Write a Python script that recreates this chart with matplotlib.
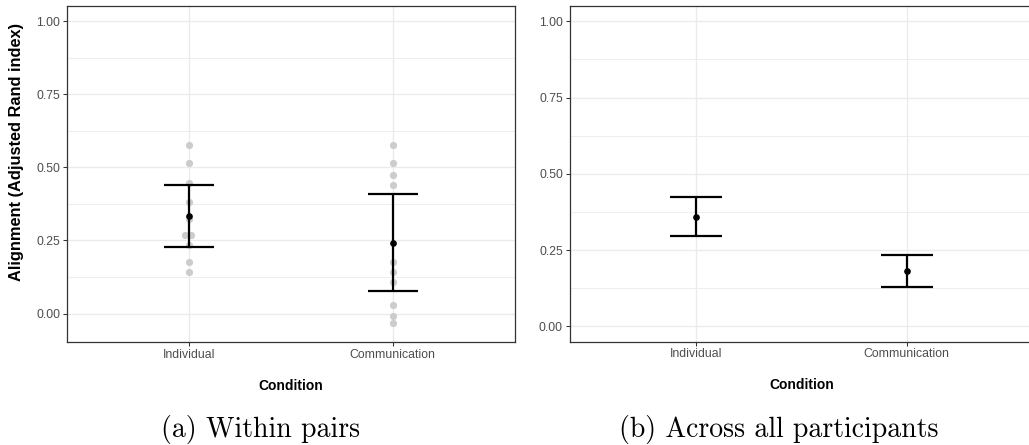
import matplotlib
matplotlib.use("Agg")
import matplotlib.pyplot as plt
import numpy as np

# ---------------- data ----------------
categories = ["Individual", "Communication"]

# panel (a): individual pair values
pairs_individual = [0.578, 0.514, 0.445, 0.380, 0.325, 0.269, 0.269, 0.235, 0.177, 0.142]
pairs_individual_offset = [0, 0, 0, 0, 0, -0.017, 0.012, 0, 0, 0]
pairs_communication = [0.578, 0.514, 0.474, 0.440, 0.177, 0.142, 0.108, 0.030, -0.008, -0.034]

pairs_mean = [0.333, 0.242]
pairs_lower = [0.229, 0.076]
pairs_upper = [0.439, 0.408]

# panel (b): across all participants
all_mean = [0.360, 0.181]
all_lower = [0.297, 0.129]
all_upper = [0.424, 0.234]

yticks = [0.00, 0.25, 0.50, 0.75, 1.00]
ytick_labels = ["0.00", "0.25", "0.50", "0.75", "1.00"]
minor_ticks = [0.125, 0.375, 0.625, 0.875]

xlabel = "Condition"
ylabel = "Alignment (Adjusted Rand index)"
captions = ["(a) Within pairs", "(b) Across all participants"]

# ---------------- style ----------------
W, H = 1029, 445
plt.rcParams["font.family"] = ["Liberation Sans", "DejaVu Sans"]
fig = plt.figure(figsize=(W / 100, H / 100), dpi=100)

grid_c = "#EBEBEB"
border_c = "#333333"
tick_c = "#4D4D4D"
tick_fs = 8.8


def px_axes(x0, x1, y0, y1):
    return fig.add_axes([x0 / W, 1 - y1 / H, (x1 - x0) / W, (y1 - y0) / H])


def style(ax, ylim):
    xs = np.arange(1, len(categories) + 1)
    ax.set_xlim(0.4, len(categories) + 0.6)
    ax.set_ylim(*ylim)
    ax.set_xticks(xs)
    ax.set_xticklabels(categories)
    ax.set_yticks(yticks)
    ax.set_yticklabels(ytick_labels)
    ax.set_yticks(minor_ticks, minor=True)
    ax.tick_params(axis="y", which="minor", length=0)
    ax.tick_params(which="major", length=3.2, width=0.75, color=border_c,
                   labelcolor=tick_c, labelsize=tick_fs, pad=1.5)
    ax.grid(which="major", color=grid_c, lw=1.0, zorder=0)
    ax.grid(which="minor", axis="y", color=grid_c, lw=0.6, zorder=0)
    ax.set_axisbelow(True)
    for s in ax.spines.values():
        s.set_color(border_c)
        s.set_linewidth(0.9)
    return xs


# ---------- panel (a) ----------
axA = px_axes(66.7, 515, 6, 342)
xs = style(axA, (-0.0975, 1.0525))
axA.plot(xs[0] + np.array(pairs_individual_offset), pairs_individual, "o",
         color="#CCCCCC", ms=5.2, mec="none", zorder=2)
axA.plot(np.full(len(pairs_communication), xs[1]), pairs_communication, "o",
         color="#CCCCCC", ms=5.2, mec="none", zorder=2)
yerrA = [np.array(pairs_mean) - np.array(pairs_lower),
         np.array(pairs_upper) - np.array(pairs_mean)]
axA.errorbar(xs, pairs_mean, yerr=yerrA, fmt="o", color="black", ms=3.8,
             elinewidth=1.6, capsize=18, capthick=1.6, zorder=3)

# ---------- panel (b) ----------
axB = px_axes(569.5, 1033, 6, 341.7)
xs = style(axB, (-0.05, 1.05))
yerrB = [np.array(all_mean) - np.array(all_lower),
         np.array(all_upper) - np.array(all_mean)]
axB.errorbar(xs, all_mean, yerr=yerrB, fmt="o", color="black", ms=3.8,
             elinewidth=1.6, capsize=18.7, capthick=1.6, zorder=3)

# ---------- labels ----------
for ax in (axA, axB):
    ax.set_xlabel(xlabel, fontsize=10, fontweight="bold", labelpad=13)

fig.text(17 / W, 1 - 152 / H, ylabel, rotation=90, ha="center", va="center",
         fontsize=11.8, fontweight="bold")

fig.text(260.5 / W, 1 - 437 / H, captions[0], ha="center", va="baseline",
         fontsize=20, family="cmr10")
fig.text(779 / W, 1 - 437 / H, captions[1], ha="center", va="baseline",
         fontsize=20, family="cmr10")

fig.savefig("out.png", dpi=100)
